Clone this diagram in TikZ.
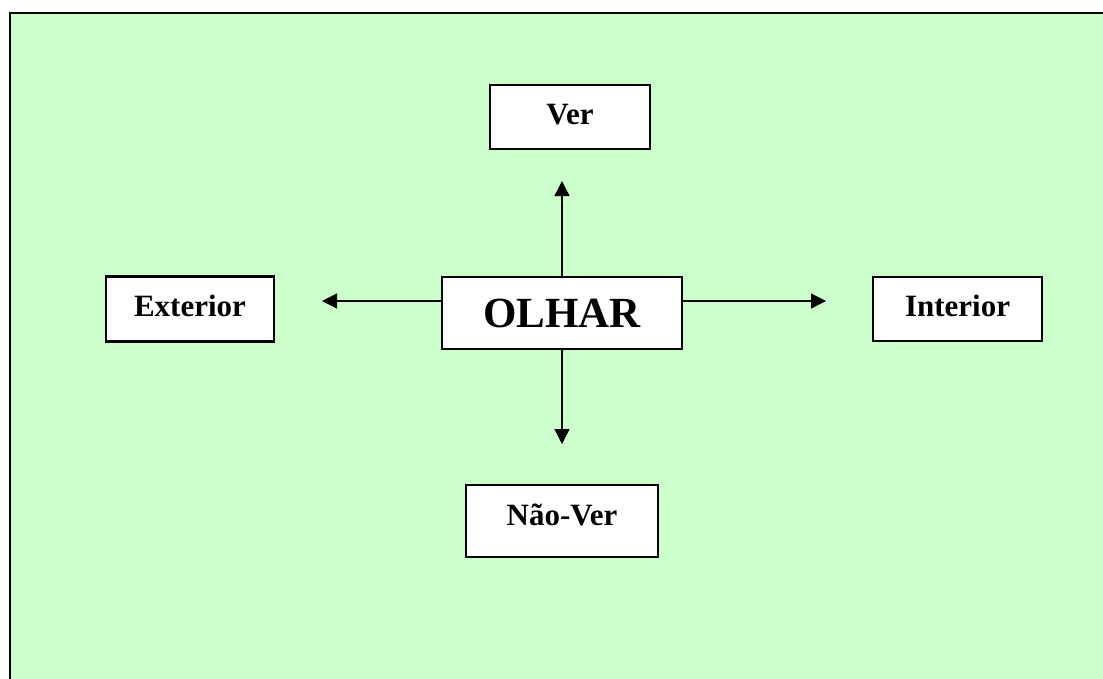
\documentclass[tikz,border=0pt]{standalone}
\usepackage{fontspec}
\setmainfont{Liberation Serif}
\usetikzlibrary{arrows.meta}
\definecolor{paneGreen}{HTML}{CCFFCC}
\begin{document}
\begin{tikzpicture}[x=1pt,y=-1pt,
  box/.style={draw=black, line width=2.2pt, fill=white, inner sep=0pt,
    font=\fontsize{31}{36}\selectfont\bfseries, text height=21pt, text depth=6pt},
  link/.style={line width=1.3pt, -{Triangle[length=15pt,width=15pt]}}]
  \useasboundingbox (0,0) rectangle (1103,678);
  % outer panel
  \begin{scope}
    \clip (0,0) rectangle (1103,678);
    \draw[line width=2.5pt, fill=paneGreen] (10,13) rectangle (1120,700);
  \end{scope}
  % central concept
  \node[box, minimum width=240pt, minimum height=72pt, text height=29pt, text depth=0pt,
        font=\fontsize{43}{50}\selectfont\bfseries] (olhar) at (562,313) {OLHAR};
  % surrounding concepts
  \node[box, minimum width=160pt, minimum height=64pt] (ver) at (570,117) {Ver};
  \node[box, minimum width=168pt, minimum height=65pt] (ext) at (190,309) {Exterior};
  \node[box, minimum width=169pt, minimum height=64pt] (int) at (957.5,309) {Interior};
  \node[box, minimum width=192pt, minimum height=72pt, text depth=12pt] (naover) at (562,521) {Não-Ver};
  % free arrow ends
  \coordinate (upEnd) at (562,181);
  \coordinate (downEnd) at (562,444);
  \coordinate (leftEnd) at (322,301);
  \coordinate (rightEnd) at (826,301);
  \coordinate (lStart) at (441,301);
  \coordinate (rStart) at (683,301);
  % arrows
  \draw[link] (olhar.north -| upEnd) -- (upEnd);
  \draw[link] (olhar.south -| downEnd) -- (downEnd);
  \draw[link] (olhar.west |- lStart) -- (leftEnd);
  \draw[link] (olhar.east |- rStart) -- (rightEnd);
\end{tikzpicture}
\end{document}
